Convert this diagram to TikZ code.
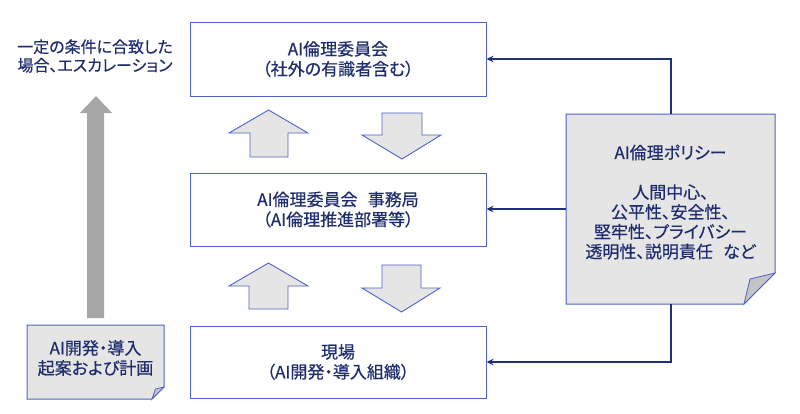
\documentclass[tikz,border=0pt]{standalone}
\usepackage{fontspec}
\setmainfont{Noto Sans CJK JP}[FakeBold=0.5, RawFeature=+palt]
\usetikzlibrary{arrows.meta}
\definecolor{txt}{HTML}{1F2D6E}
\definecolor{boxc}{HTML}{4F62C8}
\definecolor{conn}{HTML}{1F2F7A}
\definecolor{lightg}{HTML}{E5E5E5}
\definecolor{foldg}{HTML}{C4C4C4}
\definecolor{bigarrow}{HTML}{A6A6A6}
\newcommand{\jsp}{\hspace{0.6em}}
\tikzset{
  lbl/.style={font=\fontsize{17}{20}\selectfont, text=txt, align=center, inner sep=0pt},
  box/.style={lbl, draw=boxc, line width=1pt, fill=white, minimum width=296pt},
  blockarrow/.style={fill=lightg, draw=boxc, line width=0.9pt, line join=miter},
  notebox/.style={fill=lightg, draw=boxc, line width=1pt},
  fold/.style={fill=foldg, draw=boxc, line width=0.8pt},
  connector/.style={draw=conn, line width=2pt, -{Stealth[length=7pt,width=6.5pt]}}
}
\begin{document}
\begin{tikzpicture}[x=1pt,y=-1pt]
\useasboundingbox (0,0) rectangle (800,413);

% main boxes
\node[box, minimum height=74pt] (b1) at (338,59) {AI倫理委員会\\（社外の有識者含む）};
\node[box, minimum height=73pt] (b2) at (338,209.5) {AI倫理委員会\jsp 事務局\\（AI倫理推進部署等）};
\node[box, minimum height=72pt] (b3) at (338,362) {現場\\（AI開発・導入組織）};

% block arrows
\draw[blockarrow] (250,157) -- (250,133) -- (229,133) -- (268.5,110) -- (308,133) -- (288,133) -- (288,157) -- cycle;
\draw[blockarrow] (382,113) -- (422,113) -- (422,135) -- (441,135) -- (402,159) -- (362,135) -- (382,135) -- cycle;
\draw[blockarrow] (249,309) -- (249,286) -- (229,286) -- (268.5,263) -- (308,286) -- (288,286) -- (288,309) -- cycle;
\draw[blockarrow] (382,265) -- (421,265) -- (421,288) -- (440,288) -- (401.5,312) -- (362,288) -- (382,288) -- cycle;

% policy note
\draw[notebox] (566,114) -- (775,114) -- (775,273) -- (744,304) -- (566,304) -- cycle;
\draw[fold] (775,273) -- (750,279) -- (744,304) -- cycle;
\node[inner sep=0pt, minimum width=209pt, minimum height=190pt] (policy) at (670.5,209) {};
\node[lbl, font=\fontsize{17}{19.8}\selectfont] (policytext) at (670.5,202) {AI倫理ポリシー\\[19.8pt]人間中心、\\公平性、安全性、\\堅牢性、プライバシー\\透明性、説明責任\jsp など};

% connectors
\draw[connector] (policy.north) |- (b1.east);
\draw[connector] (policy.west) -- (b2.east |- policy.west);
\draw[connector] (policy.south) |- (b3.east);

% left side
\node[lbl, font=\fontsize{16}{18.5}\selectfont] (esc) at (95,56) {一定の条件に合致した\\場合、エスカレーション};
\draw[notebox] (27,325) -- (164,325) -- (164,387) -- (152,399) -- (27,399) -- cycle;
\draw[fold] (164,387) -- (155.5,389) -- (152,399) -- cycle;
\node[lbl, minimum width=137pt, minimum height=74pt] (plan) at (95.5,358) {AI開発・導入\\起案および計画};
\fill[bigarrow] (87,318) -- (87,113) -- (80,113) -- (96,96) -- (112,113) -- (104,113) -- (104,318) -- cycle;
\end{tikzpicture}
\end{document}
